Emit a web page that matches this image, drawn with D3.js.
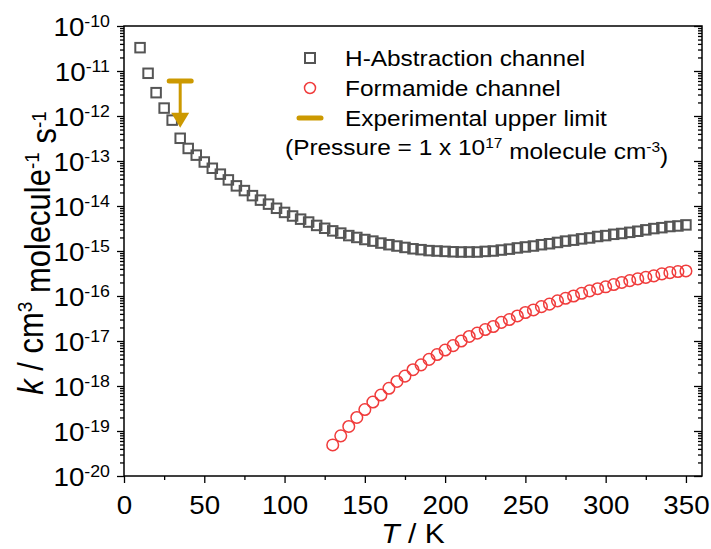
<!DOCTYPE html>
<html lang="en">
<head>
<meta charset="utf-8">
<title>Rate constant vs temperature</title>
<script src="https://d3js.org/d3.v7.min.js"></script>
<style>
  body { margin: 0; background: #fff; }
  svg text { font-family: "Liberation Sans", Arial, sans-serif; fill: #000; }
</style>
</head>
<body>
<div id="chart"></div>
<script>
"use strict"

// H-Abstraction channel (squares)
const tempAbs = [10,15,20,25,30,35,40,45,50,55,60,65,70,75,80,85,90,95,100,105,110,115,120,125,130,135,140,145,150,155,160,165,170,175,180,185,190,195,200,205,210,215,220,225,230,235,240,245,250,255,260,265,270,275,280,285,290,295,300,305,310,315,320,325,330,335,340,345,350];
const kAbs = [3.3e-11,8.9e-12,3.3e-12,1.5e-12,8.1e-13,3.2e-13,1.9e-13,1.35e-13,9.5e-14,6.9e-14,5.1e-14,3.8e-14,2.8e-14,2.2e-14,1.7e-14,1.35e-14,1.1e-14,8.9e-15,7.2e-15,6.0e-15,5.1e-15,4.4e-15,3.7e-15,3.2e-15,2.8e-15,2.5e-15,2.2e-15,2.0e-15,1.8e-15,1.66e-15,1.5e-15,1.38e-15,1.29e-15,1.2e-15,1.12e-15,1.07e-15,1.02e-15,1.0e-15,9.8e-16,9.6e-16,9.5e-16,9.5e-16,9.5e-16,9.8e-16,1.0e-15,1.05e-15,1.1e-15,1.17e-15,1.23e-15,1.29e-15,1.38e-15,1.45e-15,1.55e-15,1.66e-15,1.74e-15,1.86e-15,1.95e-15,2.1e-15,2.2e-15,2.35e-15,2.45e-15,2.6e-15,2.75e-15,2.95e-15,3.15e-15,3.3e-15,3.5e-15,3.6e-15,3.8e-15];

// Formamide channel (circles)
const tempForm = [130,135,140,145,150,155,160,165,170,175,180,185,190,195,200,205,210,215,220,225,230,235,240,245,250,255,260,265,270,275,280,285,290,295,300,305,310,315,320,325,330,335,340,345,350];
const kForm = [4.9e-20,7.8e-20,1.26e-19,2.0e-19,3.0e-19,4.4e-19,6.3e-19,8.9e-19,1.26e-18,1.66e-18,2.3e-18,2.95e-18,3.9e-18,5.0e-18,6.3e-18,7.9e-18,1.0e-17,1.26e-17,1.5e-17,1.8e-17,2.1e-17,2.6e-17,3.0e-17,3.6e-17,4.3e-17,4.9e-17,5.8e-17,6.6e-17,7.8e-17,8.9e-17,1.0e-16,1.15e-16,1.3e-16,1.45e-16,1.6e-16,1.8e-16,2.0e-16,2.2e-16,2.4e-16,2.6e-16,2.8e-16,3.1e-16,3.3e-16,3.5e-16,3.6e-16];

// Experimental upper limit
const expTemp = [35];
const expLimit = [6e-12];
const expArrowTo = [5.5e-13];

// Axes
const xTicks = [0,50,100,150,200,250,300,350];
const xMinorTicks = [25,75,125,175,225,275,325];
const yExponents = [-10,-11,-12,-13,-14,-15,-16,-17,-18,-19,-20];
const yMultipliers = [2,3,4,5,6,7,8,9];

const legendLabels = ["H-Abstraction channel","Formamide channel","Experimental upper limit"];

const W = 711, H = 549;
const margin = {top: 26, left: 124, right: 9, bottom: 73};
const w = W - margin.left - margin.right, h = H - margin.top - margin.bottom;
const colAbs = "#555555", colForm = "#f03c3c", colExp = "#cc9900";
const sx = 1.11; // text in the original is a little wide

const svg = d3.select("#chart").append("svg").attr("width", W).attr("height", H);
const g = svg.append("g").attr("transform", `translate(${margin.left},${margin.top})`);

const x = d3.scaleLinear().domain([0, 360]).range([0, w]);
const y = d3.scaleLog().domain([1e-20, 1e-10]).range([h, 0]);

const yMajor = yExponents.map(e => Math.pow(10, e));
const yMinor = [];
yExponents.slice(1).forEach(e => yMultipliers.forEach(m => yMinor.push(m * Math.pow(10, e))));

function styleAxis(sel) {
  sel.select(".domain").remove();
  sel.selectAll("line").attr("stroke", "#000").attr("stroke-width", 1.3);
}

// bottom axis
g.append("g").attr("transform", `translate(0,${h})`)
  .call(d3.axisBottom(x).tickValues(xMinorTicks).tickSize(4).tickFormat(""))
  .call(styleAxis);
const xAx = g.append("g").attr("transform", `translate(0,${h})`)
  .call(d3.axisBottom(x).tickValues(xTicks).tickSize(7).tickPadding(13))
  .call(styleAxis);
xAx.selectAll("text").style("font-size", "25px").attr("dy", "0.71em")
  .attr("transform", `scale(${sx},1)`);

// left axis
g.append("g").call(d3.axisLeft(y).tickValues(yMinor).tickSize(4).tickFormat("")).call(styleAxis);
const yAx = g.append("g").call(d3.axisLeft(y).tickValues(yMajor).tickSize(7).tickFormat("")).call(styleAxis);
yAx.selectAll(".tick").append("text")
  .attr("transform", `translate(-14,0) scale(${sx},1)`)
  .attr("dy", "0.36em").attr("text-anchor", "end")
  .style("font-size", "25px")
  .each(function(d) {
    const t = d3.select(this);
    t.append("tspan").text("10");
    t.append("tspan").attr("dy", "-0.55em").style("font-size", "16px").text(Math.round(Math.log10(d)));
  });

// right axis, ticks inward
g.append("g").attr("transform", `translate(${w},0)`)
  .call(d3.axisRight(y).tickValues(yMinor).tickSize(-4).tickFormat("")).call(styleAxis);
g.append("g").attr("transform", `translate(${w},0)`)
  .call(d3.axisRight(y).tickValues(yMajor).tickSize(-8).tickFormat("")).call(styleAxis);

// frame
g.append("rect").attr("width", w).attr("height", h)
  .attr("fill", "none").attr("stroke", "#000").attr("stroke-width", 1.5);

// squares
const sq = 9.5;
g.selectAll(".abs").data(tempAbs).enter().append("rect")
  .attr("class", "abs")
  .attr("x", d => x(d) - sq / 2).attr("y", (d, i) => y(kAbs[i]) - sq / 2)
  .attr("width", sq).attr("height", sq)
  .attr("fill", "none").attr("stroke", colAbs).attr("stroke-width", 2);

// circles
g.selectAll(".form").data(tempForm).enter().append("circle")
  .attr("class", "form")
  .attr("cx", d => x(d)).attr("cy", (d, i) => y(kForm[i])).attr("r", 5.8)
  .attr("fill", "none").attr("stroke", colForm).attr("stroke-width", 1.5);

// experimental upper limit with arrow
expTemp.forEach((t, i) => {
  const cx = x(t), y0 = y(expLimit[i]), y1 = y(expArrowTo[i]);
  g.append("line").attr("x1", cx - 11).attr("x2", cx + 11).attr("y1", y0).attr("y2", y0)
    .attr("stroke", colExp).attr("stroke-width", 5).attr("stroke-linecap", "round");
  g.append("line").attr("x1", cx).attr("x2", cx).attr("y1", y0).attr("y2", y1 - 12)
    .attr("stroke", colExp).attr("stroke-width", 3);
  g.append("path").attr("d", `M${cx - 9},${y1 - 15}L${cx + 9},${y1 - 15}L${cx},${y1}Z`)
    .attr("fill", colExp);
});

// legend
const lg = svg.append("g").style("font-size", "22px");
const lx = 310, ly = [58, 88, 118];
lg.append("rect").attr("x", lx - 5).attr("y", ly[0] - 5).attr("width", 10).attr("height", 10)
  .attr("fill", "none").attr("stroke", colAbs).attr("stroke-width", 2);
lg.append("circle").attr("cx", lx).attr("cy", ly[1]).attr("r", 5.5)
  .attr("fill", "none").attr("stroke", colForm).attr("stroke-width", 1.5);
lg.append("line").attr("x1", lx - 11).attr("x2", lx + 11).attr("y1", ly[2]).attr("y2", ly[2])
  .attr("stroke", colExp).attr("stroke-width", 5).attr("stroke-linecap", "round");
legendLabels.forEach((s, i) => {
  lg.append("text").attr("transform", `translate(345,${ly[i]}) scale(${sx},1)`)
    .attr("dy", "0.36em").text(s);
});
const pt = lg.append("text").attr("transform", `translate(285,147) scale(${sx},1)`).attr("dy", "0.36em");
pt.append("tspan").text("(Pressure = 1 x 10");
pt.append("tspan").attr("dy", "-0.5em").style("font-size", "14px").text("17");
pt.append("tspan").attr("dy", "0.5em").text(" molecule cm");
pt.append("tspan").attr("dy", "-0.5em").style("font-size", "14px").text("-3");
pt.append("tspan").attr("dy", "0.5em").text(")");

// axis titles
const xt = svg.append("text")
  .attr("transform", `translate(${margin.left + w / 2},543) scale(${sx},1)`)
  .attr("text-anchor", "middle").style("font-size", "27px");
xt.append("tspan").style("font-style", "italic").text("T");
xt.append("tspan").text(" / K");

const yt = svg.append("text")
  .attr("transform", `translate(43,${margin.top + h / 2 + 2}) scale(${sx},1) rotate(-90)`)
  .attr("text-anchor", "middle").style("font-size", "31px");
yt.append("tspan").style("font-style", "italic").text("k");
yt.append("tspan").text(" / cm");
yt.append("tspan").attr("dy", "-0.5em").style("font-size", "19px").text("3");
yt.append("tspan").attr("dy", "0.5em").text(" molecule");
yt.append("tspan").attr("dy", "-0.5em").style("font-size", "19px").text("-1");
yt.append("tspan").attr("dy", "0.5em").text(" s");
yt.append("tspan").attr("dy", "-0.5em").style("font-size", "19px").text("-1");
</script>
</body>
</html>
